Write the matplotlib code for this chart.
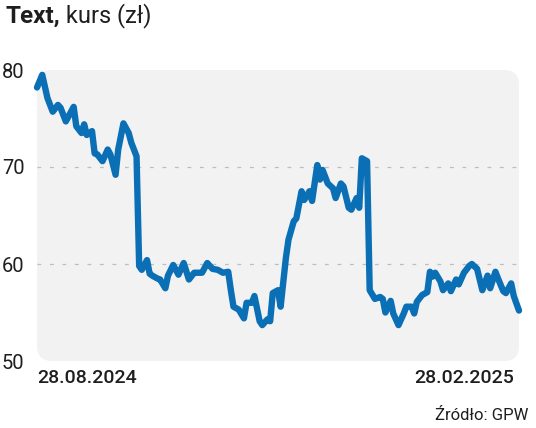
import matplotlib
matplotlib.use("Agg")
import matplotlib.pyplot as plt
from matplotlib.patches import FancyBboxPatch
import pandas as pd

title_bold = "Text,"
title_rest = " kurs (zł)"
source = "Źródło: GPW"
start_label = "28.08.2024"
end_label = "28.02.2025"
y_ticks = [50, 60, 70, 80]
grid_levels = [60, 70]

dates = [
    "2024-08-28", "2024-08-30", "2024-09-01", "2024-09-03", "2024-09-05", "2024-09-06",
    "2024-09-08", "2024-09-11", "2024-09-12", "2024-09-14", "2024-09-15", "2024-09-16",
    "2024-09-18", "2024-09-19", "2024-09-20", "2024-09-22", "2024-09-24", "2024-09-25",
    "2024-09-27", "2024-09-28", "2024-09-30", "2024-10-02", "2024-10-03", "2024-10-05",
    "2024-10-06", "2024-10-07", "2024-10-09", "2024-10-10", "2024-10-11", "2024-10-13",
    "2024-10-14", "2024-10-16", "2024-10-17", "2024-10-19", "2024-10-21", "2024-10-23",
    "2024-10-25", "2024-10-27", "2024-10-28", "2024-10-30", "2024-11-01", "2024-11-03",
    "2024-11-05", "2024-11-07", "2024-11-09", "2024-11-10",
    "2024-11-11", "2024-11-13", "2024-11-15", "2024-11-16", "2024-11-18", "2024-11-19",
    "2024-11-21", "2024-11-22", "2024-11-24", "2024-11-25", "2024-11-26", "2024-11-28",
    "2024-11-29", "2024-12-01", "2024-12-02", "2024-12-04", "2024-12-05", "2024-12-07",
    "2024-12-08", "2024-12-10", "2024-12-11", "2024-12-13", "2024-12-14", "2024-12-15",
    "2024-12-17", "2024-12-19", "2024-12-20", "2024-12-22", "2024-12-23", "2024-12-25",
    "2024-12-26", "2024-12-28", "2024-12-29", "2024-12-30", "2025-01-01", "2025-01-02",
    "2025-01-04", "2025-01-06", "2025-01-07", "2025-01-08", "2025-01-10", "2025-01-11",
    "2025-01-13", "2025-01-15", "2025-01-16", "2025-01-18", "2025-01-19",
    "2025-01-20", "2025-01-22", "2025-01-24", "2025-01-25", "2025-01-26", "2025-01-27",
    "2025-01-29", "2025-01-30", "2025-02-01", "2025-02-02", "2025-02-04", "2025-02-05",
    "2025-02-07", "2025-02-09", "2025-02-10", "2025-02-12", "2025-02-13", "2025-02-14",
    "2025-02-16", "2025-02-17", "2025-02-19", "2025-02-20", "2025-02-22", "2025-02-23",
    "2025-02-25", "2025-02-26", "2025-02-28",
]

prices = [
    78.2, 79.5, 77.1, 75.7, 76.4, 76.1,
    74.7, 76.2, 74.2, 73.5, 74.4, 73.3,
    73.7, 71.4, 71.3, 70.6, 71.8, 71.3,
    69.2, 71.8, 74.5, 73.5, 72.5, 71.1,
    59.8, 59.4, 60.4, 59.0, 58.8, 58.5,
    58.4, 57.5, 58.8, 59.9, 58.9, 60.1,
    58.4, 59.1, 59.1, 59.1, 60.1, 59.5,
    59.4, 59.1, 59.2, 57.3,
    55.6, 55.3, 54.4, 56.0, 56.0, 56.7,
    54.1, 53.7, 54.3, 54.1, 57.0, 57.3,
    55.6, 60.6, 62.5, 64.4, 64.7, 67.5,
    66.6, 67.5, 66.5, 70.2, 68.7, 69.7,
    68.3, 67.8, 66.8, 68.3, 68.0, 65.8,
    65.6, 66.8, 65.8, 70.9, 70.6, 57.3,
    56.4, 56.6, 56.4, 55.0, 56.2, 54.9,
    53.7, 54.9, 55.6, 55.6, 54.9,
    56.1, 56.8, 57.1, 59.2, 58.7, 59.1,
    58.2, 57.3, 58.0, 57.2, 58.4, 57.9,
    59.1, 59.8, 60.0, 59.5, 58.4, 57.3,
    58.8, 57.5, 59.2, 58.5, 57.2, 57.0,
    58.0, 56.7, 55.2,
]

x = pd.to_datetime(dates)

W, H = 536, 428
fig = plt.figure(figsize=(W / 100, H / 100), dpi=100)
fig.patch.set_facecolor("white")

FONT = ["Roboto", "DejaVu Sans"]
TXT = "#1e1e1e"

ax = fig.add_axes([37 / W, (H - 361) / H, (519 - 37) / W, (361 - 70) / H])
ax.set_facecolor("none")

# rounded panel background (figure inches)
px = 1 / 100
panel = FancyBboxPatch((37 * px, (H - 361) * px), (519 - 37) * px, (361 - 70) * px,
                       boxstyle="round,pad=0,rounding_size=0.15",
                       transform=fig.dpi_scale_trans, facecolor="#f2f2f2",
                       edgecolor="none", zorder=0, clip_on=False)
ax.add_patch(panel)

ax.set_xlim(pd.Timestamp(dates[0]), pd.Timestamp(dates[-1]))
ax.set_ylim(50, 80)
for s in ax.spines.values():
    s.set_visible(False)
ax.set_xticks([])
ax.set_yticks(y_ticks)
ax.set_yticklabels([str(t) for t in y_ticks], fontsize=14.5, color=TXT, family=FONT)
ax.tick_params(axis="y", length=0, pad=9)

for g in grid_levels:
    ax.axhline(g, color="#bdbdbd", lw=0.9, dashes=(3, 7), zorder=1)

ax.plot(x, prices, color="#0b6fb6", lw=4.6, solid_joinstyle="round",
        solid_capstyle="round", zorder=3, clip_on=False)

fig.text(37 / W, 1 - 378 / H, start_label, ha="left", va="center",
         fontsize=14, color=TXT, family=FONT, fontweight="medium")
fig.text(514 / W, 1 - 378 / H, end_label, ha="right", va="center",
         fontsize=14, color=TXT, family=FONT, fontweight="medium")
fig.text(528 / W, 1 - 416 / H, source, ha="right", va="center",
         fontsize=12, color=TXT, family=FONT)

t1 = fig.text(5 / W, 1 - 16 / H, title_bold, ha="left", va="center",
              fontsize=17.5, fontweight="bold", color=TXT, family=FONT)
fig.canvas.draw()
bb = t1.get_window_extent()
fig.text(bb.x1 / W, 1 - 16 / H, title_rest, ha="left", va="center",
         fontsize=17, color=TXT, family=FONT)

fig.savefig("out.png", dpi=100, facecolor="white")
